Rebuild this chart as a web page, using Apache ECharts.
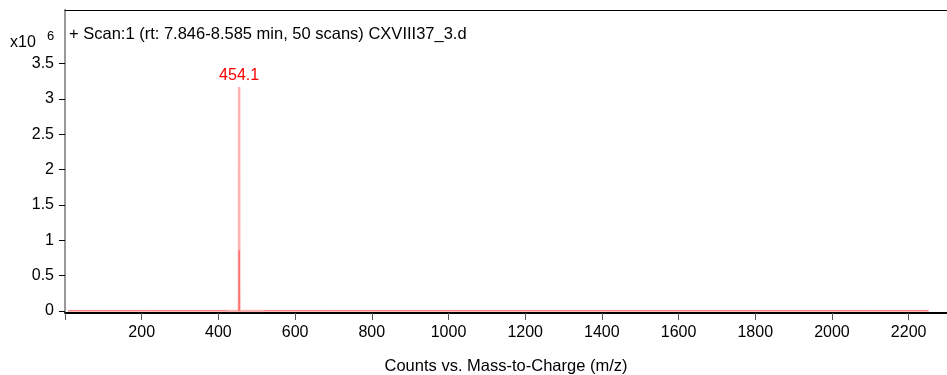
<!DOCTYPE html>
<html>
<head>
<meta charset="utf-8">
<script src="https://cdn.jsdelivr.net/npm/echarts@6/dist/echarts.min.js"></script>
<style>
html,body{margin:0;padding:0;background:#fff;}
#chart{width:947px;height:375px;}
</style>
</head>
<body>
<div id="chart"></div>
<script>
// m/z values (x) and counts in units of 10^6 (y)
const baselineMz = [8, 100, 205, 211, 214, 217, 223, 300, 420, 520, 700, 1000, 1400, 1800, 2100, 2252];
const baselineCounts = [0, 0, 0, 0, 0.025, 0, 0, 0, 0, 0, 0, 0, 0, 0, 0, 0];
const peakMz = [420, 453.7, 454.1, 454.5, 520];
const peakCounts = [0, 0, 3.17, 0, 0];
const shoulderMz = [453.9, 454.3, 454.7];
const shoulderCounts = [0, 0.86, 0];
const peakLabel = "454.1";
const xTicks = [0, 200, 400, 600, 800, 1000, 1200, 1400, 1600, 1800, 2000, 2200];
const xTickLabels = [200, 400, 600, 800, 1000, 1200, 1400, 1600, 1800, 2000, 2200];
const yTicks = [0, 0.5, 1, 1.5, 2, 2.5, 3, 3.5];
const titleText = "+ Scan:1 (rt: 7.846-8.585 min, 50 scans) CXVIII37_3.d";
const xAxisName = "Counts vs. Mass-to-Charge (m/z)";

const FONT = "'Liberation Sans', Arial, sans-serif";
const zip = (a, b) => a.map((v, i) => [v, b[i]]);
const peakMaxIdx = peakCounts.indexOf(Math.max(...peakCounts));
const peakData = zip(peakMz, peakCounts).map((p, i) => i === peakMaxIdx ? {
  value: p,
  label: {show: true, position: 'top', distance: 3, formatter: peakLabel, color: '#ff0000', fontSize: 16, fontFamily: FONT}
} : p);

const chart = echarts.init(document.getElementById('chart'), null, {renderer: 'canvas'});
chart.setOption({
  animation: false,
  backgroundColor: '#ffffff',
  grid: {left: 65, right: 0, top: 10, bottom: 64, outerBoundsMode: 'none', containLabel: false},
  xAxis: [{
    type: 'value', min: 0, max: 2300, offset: 2,
    name: xAxisName, nameLocation: 'middle', nameGap: 45,
    nameTextStyle: {color: '#000', fontSize: 16.5, fontFamily: FONT},
    axisLine: {show: true, onZero: false, lineStyle: {color: '#000', width: 2}},
    axisTick: {show: true, length: 7, customValues: xTicks, lineStyle: {color: '#555', width: 1}},
    axisLabel: {customValues: xTickLabels, formatter: v => String(v), color: '#000', fontSize: 16, fontFamily: FONT, margin: 12},
    splitLine: {show: false}
  }, {
    type: 'value', min: 0, max: 2300, position: 'top',
    axisLine: {show: true, onZero: false, lineStyle: {color: '#000', width: 1}},
    axisTick: {show: false}, axisLabel: {show: false}, splitLine: {show: false}
  }],
  yAxis: {
    type: 'value', min: 0, max: 4.26,
    axisLine: {show: true, onZero: false, lineStyle: {color: '#999', width: 2}},
    axisTick: {show: true, length: 6, customValues: yTicks, lineStyle: {color: '#000', width: 1}},
    axisLabel: {customValues: yTicks, formatter: v => String(v), color: '#000', fontSize: 16, fontFamily: FONT, margin: 11},
    splitLine: {show: false}
  },
  graphic: [
    {type: 'text', left: 69, top: 26, style: {text: titleText, fill: '#000', font: "16.5px 'Liberation Sans', Arial, sans-serif"}},
    {type: 'text', left: 10, top: 35, style: {text: 'x10', fill: '#000', font: "16px 'Liberation Sans', Arial, sans-serif"}},
    {type: 'text', left: 47, top: 30, style: {text: '6', fill: '#000', font: "13px 'Liberation Sans', Arial, sans-serif"}}
  ],
  series: [
    {type: 'line', data: zip(baselineMz, baselineCounts), showSymbol: false, symbol: 'none',
     lineStyle: {color: '#ff0000', width: 1}, z: 2, silent: true},
    {type: 'line', data: peakData, showSymbol: true, symbol: 'circle', symbolSize: 0.01,
     itemStyle: {color: 'rgba(0,0,0,0)'},
     lineStyle: {color: '#ffb3b3', width: 2.5}, z: 3, silent: true},
    {type: 'line', data: zip(shoulderMz, shoulderCounts), showSymbol: false, symbol: 'none',
     lineStyle: {color: 'rgba(255,60,60,0.55)', width: 1.5}, z: 4, silent: true}
  ]
});
</script>
</body>
</html>
